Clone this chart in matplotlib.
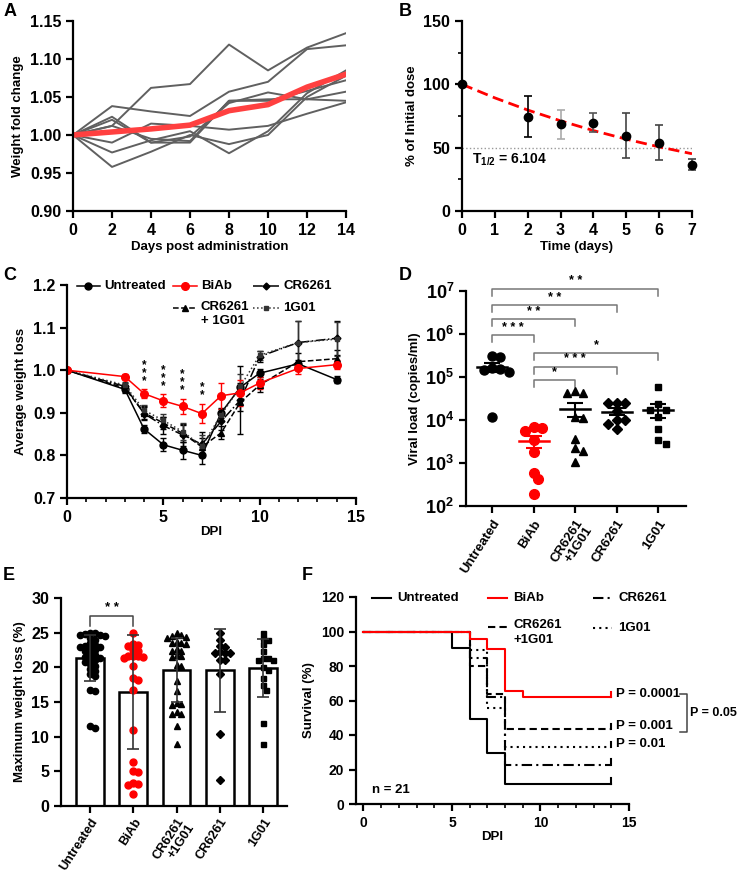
import numpy as np
import matplotlib
matplotlib.use('Agg')
import matplotlib.pyplot as plt
from matplotlib.ticker import MultipleLocator, FixedLocator, FuncFormatter, NullLocator

plt.rcParams['font.family'] = ['Liberation Sans', 'DejaVu Sans']
plt.rcParams['font.weight'] = 'bold'
plt.rcParams['axes.labelweight'] = 'bold'
plt.rcParams['axes.linewidth'] = 1.6
plt.rcParams['xtick.major.width'] = 1.6
plt.rcParams['ytick.major.width'] = 1.6
plt.rcParams['xtick.minor.width'] = 1.2
plt.rcParams['ytick.minor.width'] = 1.2
plt.rcParams['xtick.major.size'] = 5
plt.rcParams['ytick.major.size'] = 5
plt.rcParams['xtick.minor.size'] = 3
plt.rcParams['ytick.minor.size'] = 3
plt.rcParams['xtick.labelsize'] = 11.5
plt.rcParams['ytick.labelsize'] = 11.5
plt.rcParams['axes.labelsize'] = 9.5
plt.rcParams['mathtext.fontset'] = 'custom'
plt.rcParams['mathtext.bf'] = 'Liberation Sans:bold'
plt.rcParams['mathtext.rm'] = 'Liberation Sans:bold'

# ---- A: weight fold change of single mice
a_days = [0, 2, 4, 6, 8, 10, 12, 14]
a_mice = [
    [1.0, 1.012, 1.062, 1.067, 1.119, 1.085, 1.115, 1.134],
    [1.0, 1.038, 1.031, 1.025, 1.057, 1.070, 1.113, 1.118],
    [1.0, 1.024, 0.990, 0.990, 1.045, 1.047, 1.047, 1.045],
    [1.0, 0.990, 1.015, 1.012, 1.007, 1.012, 1.028, 1.043],
    [1.0, 0.977, 0.993, 1.005, 0.976, 1.005, 1.055, 1.085],
    [1.0, 0.958, 0.978, 1.000, 0.988, 1.000, 1.050, 1.078],
    [1.0, 1.020, 0.990, 0.998, 1.042, 1.056, 1.047, 1.057],
    [1.0, 1.012, 0.995, 0.992, 1.045, 1.045, 1.058, 1.072],
]
a_mean = [1.0, 1.004, 1.008, 1.013, 1.032, 1.040, 1.063, 1.080]

# ---- B: % of initial dose
b_days = [0, 2, 3, 4, 5, 6, 7]
b_pct = [100, 74.5, 68.7, 69.5, 59.5, 54.0, 36.6]
b_lo = [100, 58.5, 57.0, 62.0, 42.0, 40.0, 32.0]
b_hi = [100, 91.0, 80.0, 77.0, 77.0, 68.0, 41.0]
b_fit_days = [0, 1, 2, 3, 4, 5, 6, 7]
b_fit = [100, 89.3, 79.7, 71.2, 63.5, 56.7, 50.6, 45.2]
b_half = '6.104'

# ---- C: average weight loss
c_dpi = [0, 3, 4, 5, 6, 7, 8, 9, 10, 12, 14]
c_untreated = [1.0, 0.955, 0.862, 0.825, 0.812, 0.800, 0.900, 0.960, 0.993, 1.015, 0.978]
c_untreated_err = [0, 0.008, 0.010, 0.015, 0.020, 0.020, 0.012, 0.010, 0.010, 0.010, 0.008]
c_biab = [1.0, 0.985, 0.945, 0.928, 0.915, 0.898, 0.940, 0.947, 0.970, 1.004, 1.013]
c_biab_err = [0, 0.005, 0.010, 0.015, 0.018, 0.023, 0.030, 0.030, 0.015, 0.012, 0.010]
c_cr = [1.0, 0.962, 0.898, 0.870, 0.848, 0.826, 0.880, 0.930, 1.032, 1.065, 1.075]
c_cr_err = [0, 0.008, 0.015, 0.020, 0.025, 0.030, 0.020, 0.080, 0.012, 0.050, 0.040]
c_combo = [1.0, 0.958, 0.900, 0.876, 0.852, 0.820, 0.853, 0.925, 0.965, 1.020, 1.027]
c_combo_err = [0, 0.008, 0.015, 0.015, 0.020, 0.020, 0.015, 0.020, 0.015, 0.020, 0.020]
c_1g01 = [1.0, 0.965, 0.906, 0.882, 0.856, 0.822, 0.895, 0.962, 1.035, 1.065, 1.073]
c_1g01_err = [0, 0.008, 0.012, 0.015, 0.020, 0.025, 0.015, 0.030, 0.010, 0.050, 0.040]
c_star_days = [4, 5, 6, 7]
c_star_text = ['***', '***', '***', '**']

# ---- D: viral load
groups = ['Untreated', 'BiAb', 'CR6261\n+1G01', 'CR6261', '1G01']
d_untreated = [2.9e5, 3.1e5, 1.6e5, 1.3e5, 1.45e5, 1.55e5, 1.2e4]
d_biab = [7.0e3, 5.6e3, 6.4e3, 3.5e3, 1.8e3, 600, 420, 190]
d_combo = [4.7e4, 4.3e4, 4.3e4, 1.2e4, 1.1e4, 3.6e3, 2.2e3, 1.9e3, 1.05e3]
d_cr = [2.5e4, 2.5e4, 2.5e4, 1.65e4, 1.0e4, 1.0e4, 8.1e3, 6.2e3]
d_1g01 = [5.7e4, 2.3e4, 1.75e4, 1.7e4, 1.2e4, 6.1e3, 3.4e3, 2.7e3]
d_pairs = [(0, 4, '**'), (0, 3, '**'), (0, 2, '**'), (0, 1, '***'),
           (1, 4, '*'), (1, 3, '***'), (1, 2, '*')]
d_bracket_y = [1.12e7, 4.7e6, 2.2e6, 9.5e5, 3.7e5, 1.75e5, 8.5e4]

# ---- E: maximum weight loss
e_means = [21.3, 16.4, 19.6, 19.6, 19.9]
e_sd = [3.3, 8.2, 4.6, 6.0, 4.2]
e_untreated = [25.0, 24.8, 24.9, 24.6, 24.7, 24.5, 24.3, 23.9, 23.5, 23.2, 23.1, 23.0,
               23.0, 22.8, 22.5, 22.3, 22.0, 21.8, 21.5, 21.4, 21.2, 21.0, 20.8, 20.5,
               20.2, 19.8, 19.5, 19.0, 18.7, 16.8, 16.6, 11.5, 11.3]
e_biab = [25.0, 23.3, 23.2, 23.1, 22.5, 22.3, 21.7, 21.6, 21.5, 21.6, 21.4, 20.2, 18.5,
          18.2, 16.7, 11.0, 6.4, 5.0, 4.9, 3.3, 3.2, 3.1, 1.7]
e_combo = [24.9, 24.7, 24.5, 24.4, 24.3, 23.5, 23.6, 23.4, 23.5, 22.4, 22.6, 22.3, 21.6,
           21.8, 21.5, 20.4, 20.2, 18.0, 16.6, 14.7, 14.6, 14.8, 13.3, 13.5, 13.2, 11.5, 8.9]
e_cr = [25.0, 24.0, 23.0, 23.1, 22.0, 22.0, 22.1, 22.2, 21.0, 21.0, 19.1, 10.4, 3.8]
e_1g01 = [24.9, 24.2, 23.9, 23.3, 22.3, 21.0, 21.0, 21.3, 21.4, 20.1, 19.6, 18.4, 17.4,
          16.8, 11.9, 9.0]
e_sig = (0, 1, '**', 27.4)

# ---- F: survival
f_untreated_t = [0, 5, 6, 7, 8, 14]
f_untreated = [100, 90.5, 49.0, 29.5, 11.8, 11.8]
f_biab_t = [0, 6, 7, 8, 9, 14]
f_biab = [100, 95.5, 90.0, 65.5, 62.2, 62.2]
f_combo_t = [0, 6, 7, 8, 14]
f_combo = [100, 80.0, 63.5, 43.5, 43.5]
f_cr_t = [0, 6, 7, 8, 14]
f_cr = [100, 84.5, 62.0, 22.8, 22.8]
f_1g01_t = [0, 6, 7, 8, 14]
f_1g01 = [100, 89.0, 55.5, 33.0, 33.0]
f_pvals = ['P = 0.0001', 'P = 0.001', 'P = 0.01']
f_p_between = 'P = 0.05'


def swarm(vals, y_px, x_px, d):
    # simple beeswarm: offsets (category units) so markers don't overlap
    vals = np.asarray(vals, dtype=float)
    order = np.argsort(-vals)
    placed = []
    offs = np.zeros(len(vals))
    for i in order:
        y = vals[i] * y_px
        for k in range(60):
            x = ((k + 1) // 2) * (1 if k % 2 else -1) * d * 0.55
            if all((x - px) ** 2 + (y - py) ** 2 >= d * d for px, py in placed):
                break
        placed.append((x, y))
        offs[i] = x / x_px
    return offs


def clean(ax):
    ax.spines['top'].set_visible(False)
    ax.spines['right'].set_visible(False)


fig = plt.figure(figsize=(7.4, 8.73), dpi=100)


def box(l, t, r, b):
    return fig.add_axes([l / 740, 1 - b / 873, (r - l) / 740, (b - t) / 873])


# ================= A
axA = box(73, 21, 346, 211)
clean(axA)
for m in a_mice:
    axA.plot(a_days, m, color='#606060', lw=1.4)
axA.plot(a_days, a_mean, color='#ff4040', lw=4)
axA.set_xlim(0, 14)
axA.set_ylim(0.90, 1.15)
axA.xaxis.set_major_locator(MultipleLocator(2))
axA.yaxis.set_major_locator(MultipleLocator(0.05))
axA.yaxis.set_major_formatter(FuncFormatter(lambda v, p: '%.2f' % v))
axA.set_xlabel('Days post administration', labelpad=2)
axA.set_ylabel('Weight fold change', labelpad=4)

# ================= B
axB = box(462, 21, 692, 211)
clean(axB)
axB.axhline(50, color='#999999', lw=1, ls=':')
axB.plot(b_fit_days, b_fit, color='red', lw=2, dashes=(4, 2))
b_ecol = ['black', 'black', '#aaaaaa', '#555555', '#444444', '#444444', '#444444']
for x, y, lo, hi, c in zip(b_days, b_pct, b_lo, b_hi, b_ecol):
    axB.errorbar([x], [y], yerr=[[y - lo], [hi - y]], fmt='none', ecolor=c,
                 elinewidth=1.2, capsize=3, capthick=1.2, clip_on=False)
axB.plot(b_days, b_pct, 'o', color='black', ms=6, clip_on=False, zorder=5)
axB.text(0.3, 40.5, r'$\mathbf{T_{1/2}}$ = ' + b_half, fontsize=10, va='center')
axB.set_xlim(0, 7)
axB.set_ylim(0, 150)
axB.xaxis.set_major_locator(MultipleLocator(1))
axB.yaxis.set_major_locator(MultipleLocator(50))
axB.yaxis.set_minor_locator(MultipleLocator(25))
axB.set_xlabel('Time (days)', labelpad=2)
axB.set_ylabel('% of Initial dose', labelpad=4)

# ================= C
axC = box(67, 285, 356, 498)
clean(axC)
c_series = [
    (c_untreated, c_untreated_err, 'black', '-', 'o', 5),
    (c_cr, c_cr_err, 'black', '-.', 'D', 3.5),
    (c_combo, c_combo_err, 'black', '--', '^', 4),
    (c_1g01, c_1g01_err, '#333333', ':', 's', 3.5),
    (c_biab, c_biab_err, 'red', '-', 'o', 5.5),
]
for vals, err, col, ls, mk, ms in c_series:
    axC.errorbar(c_dpi, vals, yerr=err, color=col, ls=ls, lw=1.1, marker=mk, ms=ms,
                 ecolor=col, elinewidth=1, capsize=2.5, capthick=1)
for d, s in zip(c_star_days, c_star_text):
    i = c_dpi.index(d)
    axC.text(d, c_biab[i] + c_biab_err[i] + 0.006, '\n'.join(s), ha='center',
             va='bottom', fontsize=8.5, linespacing=0.55)
# legend drawn by hand to match the layout
c_leg = [
    (0.52, 1.71, 1.198, 'black', '-', 'o', 5, 'Untreated'),
    (5.50, 6.74, 1.198, 'red', '-', 'o', 5.5, 'BiAb'),
    (9.64, 11.04, 1.198, 'black', '-.', 'D', 3.5, 'CR6261'),
    (5.50, 6.74, 1.146, 'black', '--', '^', 4, 'CR6261\n+ 1G01'),
    (9.64, 11.04, 1.146, '#333333', ':', 's', 3.5, '1G01'),
]
for x0, x1, y, col, ls, mk, ms, lab in c_leg:
    axC.plot([x0, x1], [y, y], color=col, ls=ls, lw=1.1, clip_on=False)
    axC.plot([(x0 + x1) / 2], [y], marker=mk, color=col, ms=ms, clip_on=False)
    axC.text(x1 + 0.2, y + (0.017 if '\n' in lab else 0), lab, fontsize=9.5,
             va='top' if '\n' in lab else 'center', linespacing=1.3)
axC.set_xlim(0, 15)
axC.set_ylim(0.7, 1.2)
axC.xaxis.set_major_locator(MultipleLocator(5))
axC.xaxis.set_minor_locator(MultipleLocator(1))
axC.yaxis.set_major_locator(MultipleLocator(0.1))
axC.yaxis.set_major_formatter(FuncFormatter(lambda v, p: '%.1f' % v))
axC.set_xlabel('DPI', labelpad=1)
axC.set_ylabel('Average weight loss', labelpad=4)

# ================= D
axD = box(466, 291, 686, 506)
clean(axD)
axD.set_yscale('log')
d_sets = [(d_untreated, 'o', 'black', 6.5), (d_biab, 'o', 'red', 7),
          (d_combo, '^', 'black', 6), (d_cr, 'D', 'black', 5), (d_1g01, 's', 'black', 5)]
for i, (vals, mk, col, ms) in enumerate(d_sets):
    offs = swarm(np.log10(vals), 43.0, 41.5, 7.5)
    axD.plot(i + offs, vals, ls='none', marker=mk, color=col, ms=ms, zorder=3)
    lv = np.array(vals)
    mean = lv.mean()
    sem = lv.std(ddof=1) / np.sqrt(len(lv))
    axD.plot([i - 0.36, i + 0.36], [mean, mean], color=col, lw=1.8, zorder=4)
    axD.errorbar([i], [mean], yerr=[sem], fmt='none', ecolor=col, elinewidth=1.5,
                 capsize=6, capthick=1.5, zorder=4)
for (a, b, s), yb in zip(d_pairs, d_bracket_y):
    axD.plot([a, a, b, b], [yb * 0.68, yb, yb, yb * 0.68], color='#777777', lw=1.1,
             clip_on=False)
    axD.text((a + b) / 2, yb * 1.08, ' '.join(s), ha='center', va='bottom',
             fontsize=9, clip_on=False)
axD.set_ylim(1e2, 1e7)
axD.set_xlim(-0.63, 4.67)
axD.yaxis.set_major_locator(FixedLocator([1e2, 1e3, 1e4, 1e5, 1e6, 1e7]))
axD.yaxis.set_minor_locator(NullLocator())
axD.yaxis.set_major_formatter(FuncFormatter(
    lambda v, p: r'$\mathbf{10^{%d}}$' % int(round(np.log10(v)))))
axD.tick_params(axis='y', labelsize=13)
axD.set_xticks(range(len(groups)))
axD.set_xticklabels(groups, rotation=57, ha='right', rotation_mode='anchor',
                    fontsize=9.5, linespacing=1.0)
axD.set_ylabel('Viral load (copies/ml)', labelpad=3)

# ================= E
axE = box(61, 598, 287, 806)
clean(axE)
e_sets = [(e_untreated, 'o', 'black', 4.5), (e_biab, 'o', 'red', 5),
          (e_combo, '^', 'black', 4.2), (e_cr, 'D', 'black', 3.6), (e_1g01, 's', 'black', 3.6)]
axE.bar(range(len(groups)), e_means, width=0.64, color='white', edgecolor='black',
        linewidth=1.8, zorder=1)
for i, (vals, mk, col, ms) in enumerate(e_sets):
    offs = swarm(vals, 6.93, 43.25, 4.4)
    axE.plot(i + offs, vals, ls='none', marker=mk, color=col, ms=ms, zorder=3)
axE.errorbar(range(len(groups)), e_means, yerr=e_sd, fmt='none', ecolor='#333333',
             elinewidth=1.2, capsize=4, capthick=1.2, zorder=4)
a, b, s, yb = e_sig
axE.plot([a, a, b, b], [yb - 1.5, yb, yb, yb - 1.5], color='#444444', lw=1.1)
axE.text((a + b) / 2, yb + 0.3, ' '.join(s), ha='center', va='bottom', fontsize=9.5)
axE.set_ylim(0, 30)
axE.set_xlim(-0.67, 4.55)
axE.yaxis.set_major_locator(MultipleLocator(5))
axE.set_xticks(range(len(groups)))
axE.set_xticklabels(groups, rotation=57, ha='right', rotation_mode='anchor',
                    fontsize=9.2, linespacing=1.0)
axE.tick_params(axis='x', pad=2)
axE.set_ylabel('Maximum weight loss (%)', labelpad=4)

# ================= F
axF = box(356, 597, 629, 804)
clean(axF)
f_sets = [(f_untreated_t, f_untreated, 'black', '-'),
          (f_cr_t, f_cr, 'black', (0, (5, 2, 1, 2))),
          (f_1g01_t, f_1g01, 'black', (0, (1, 2))),
          (f_combo_t, f_combo, 'black', (0, (3.5, 2))),
          (f_biab_t, f_biab, 'red', '-')]
for t, s, col, ls in f_sets:
    axF.step(t, s, where='post', color=col, ls=ls, lw=1.5)
    axF.plot([t[-1], t[-1]], [s[-1], s[-1] + 3], color=col, lw=1.5)
for lab, s in zip(f_pvals, [f_biab, f_combo, f_1g01]):
    axF.text(14.25, s[-1] + 1.5, lab, fontsize=9.5, va='center', clip_on=False)
yt, yb2 = f_biab[-1] + 1.5, f_combo[-1] - 2
axF.plot([17.9, 18.3, 18.3, 17.9], [yt, yt, yb2, yb2], color='#444444', lw=1.1,
         clip_on=False)
axF.text(18.45, (yt + yb2) / 2, f_p_between, fontsize=9, va='center', clip_on=False)
axF.text(0.5, 8, 'n = 21', fontsize=9.5, va='center')
f_leg = [
    (0.50, 1.55, 119.6, 'black', '-', 'Untreated'),
    (7.03, 8.10, 119.6, 'red', '-', 'BiAb'),
    (12.97, 14.04, 119.6, 'black', (0, (5, 2, 1, 2)), 'CR6261'),
    (7.03, 8.10, 102.6, 'black', (0, (3.5, 2)), 'CR6261\n+1G01'),
    (12.97, 14.04, 101.8, 'black', (0, (1, 2)), '1G01'),
]
for x0, x1, y, col, ls, lab in f_leg:
    axF.plot([x0, x1], [y, y], color=col, ls=ls, lw=1.5, clip_on=False)
    axF.text(x1 + 0.35, y + (4.5 if '\n' in lab else 0), lab, fontsize=9.5,
             va='top' if '\n' in lab else 'center', linespacing=1.3, clip_on=False)
axF.set_xlim(-0.42, 15)
axF.set_ylim(0, 120)
axF.xaxis.set_major_locator(MultipleLocator(5))
axF.xaxis.set_minor_locator(MultipleLocator(1))
axF.yaxis.set_major_locator(MultipleLocator(20))
axF.tick_params(labelsize=10)
axF.set_xlabel('DPI', labelpad=1)
axF.set_ylabel('Survival (%)', labelpad=4)

# panel letters
for lab, x, y in [('A', 4, 11), ('B', 399, 12), ('C', 3, 275), ('D', 399, 275),
                  ('E', 3, 575), ('F', 302, 575)]:
    fig.text(x / 740, 1 - y / 873, lab, fontsize=13, fontweight='bold', va='center')

fig.savefig('out.png', dpi=100)
